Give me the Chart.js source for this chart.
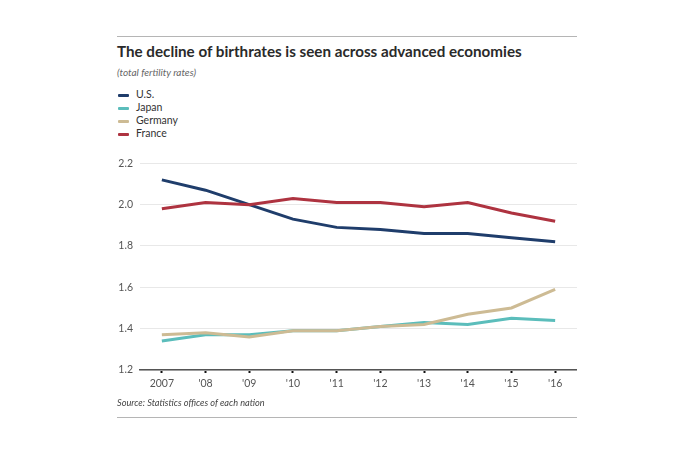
<!DOCTYPE html>
<html>
<head>
<meta charset="utf-8">
<script src="https://cdn.jsdelivr.net/npm/chart.js@4"></script>
<style>
body{margin:0;background:#fff;font-family:Lato,"Noto Sans",sans-serif;}
.rule{position:absolute;left:117px;width:460px;height:1px;background:#b5b5b5;}
#title{position:absolute;left:117px;top:42px;font-size:15.2px;font-weight:bold;color:#2a2a2a;}
#sub{position:absolute;left:117px;top:66px;font-size:10px;font-style:italic;color:#666;}
#legend{position:absolute;left:118px;top:88px;font-size:10.5px;color:#333;}
#legend div{height:13px;line-height:13px;}
#legend span{display:inline-block;width:11px;height:3px;vertical-align:middle;margin-right:7px;border-radius:1px;}
#source{position:absolute;left:117px;top:397px;font-size:9.2px;font-style:italic;color:#444;}
#wrap{position:absolute;left:100px;top:150px;width:477px;height:250px;}
</style>
</head>
<body>
<div class="rule" style="top:36px"></div>
<div id="title">The decline of birthrates is seen across advanced economies</div>
<div id="sub">(total fertility rates)</div>
<div id="legend"></div>
<div id="wrap"><canvas id="chart"></canvas></div>
<div id="source">Source: Statistics offices of each nation</div>
<div class="rule" style="top:417px"></div>
<script>
const years = ["2007","'08","'09","'10","'11","'12","'13","'14","'15","'16"];
const us      = [2.12,2.07,2.00,1.93,1.89,1.88,1.86,1.86,1.84,1.82];
const japan   = [1.34,1.37,1.37,1.39,1.39,1.41,1.43,1.42,1.45,1.44];
const germany = [1.37,1.38,1.36,1.39,1.39,1.41,1.42,1.47,1.50,1.59];
const france  = [1.98,2.01,2.00,2.03,2.01,2.01,1.99,2.01,1.96,1.92];

const series = [
  {label:"U.S.", data:us, color:"#1f3d6b"},
  {label:"Japan", data:japan, color:"#5bbdbb"},
  {label:"Germany", data:germany, color:"#cdbb94"},
  {label:"France", data:france, color:"#ae3340"}
];

// legend as html, stacked
const leg = document.getElementById("legend");
series.forEach(s=>{
  const d = document.createElement("div");
  d.innerHTML = '<span style="background:'+s.color+'"></span>'+s.label;
  leg.appendChild(d);
});

new Chart(document.getElementById("chart"),{
  type:"line",
  data:{
    labels:years,
    // draw order: lighter lines under darker ones
    datasets:[series[2],series[1],series[3],series[0]].map(s=>({
      label:s.label,
      data:s.data,
      borderColor:s.color,
      borderWidth:3,
      pointRadius:0,
      tension:0,
      fill:false
    }))
  },
  options:{
    responsive:true,
    maintainAspectRatio:false,
    animation:false,
    layout:{padding:{top:9,right:0,left:0,bottom:0}},
    plugins:{legend:{display:false},tooltip:{enabled:false}},
    scales:{
      x:{
        offset:true,
        grid:{drawOnChartArea:false,color:"#111",tickLength:3,tickWidth:2},
        border:{color:"#555",width:1.5},
        ticks:{color:"#555",font:{family:"Lato",size:10.5},padding:4},
        afterFit:s=>{s.height=30;}
      },
      y:{
        min:1.2,max:2.2,
        grid:{color:"#e8e8e8",drawTicks:false},
        border:{display:false},
        ticks:{stepSize:0.2,color:"#555",font:{family:"Lato",size:10.5},padding:7,
          callback:v=>v.toFixed(1)},
        afterFit:s=>{s.width=40;}
      }
    }
  }
});
</script>
</body>
</html>
